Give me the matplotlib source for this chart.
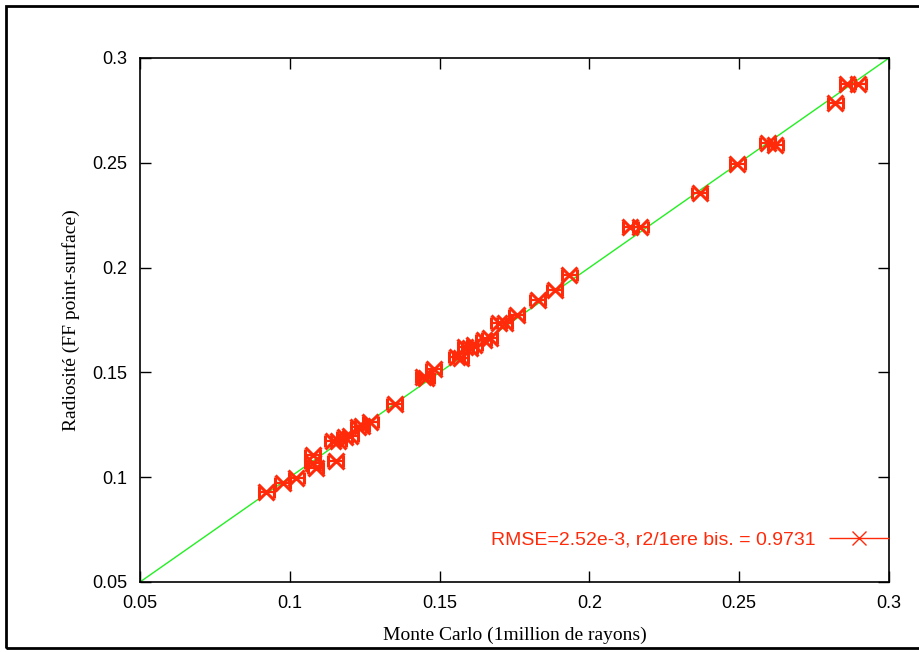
import matplotlib
matplotlib.use('Agg')
import matplotlib.pyplot as plt
from matplotlib.patches import Rectangle
from matplotlib.legend_handler import HandlerErrorbar
import numpy as np

# Monte Carlo (x) vs radiosity FF point-surface (y)
monte_carlo = [0.0921, 0.0977, 0.1021, 0.1077, 0.1077, 0.1087, 0.1154, 0.1144, 0.1161,
               0.1184, 0.1201, 0.1228, 0.1241, 0.1268, 0.1351, 0.1445, 0.1455, 0.1481,
               0.1558, 0.1571, 0.1585, 0.1601, 0.1615, 0.1648, 0.1668, 0.1698, 0.1718,
               0.1758, 0.1828, 0.1885, 0.1932, 0.2136, 0.2169, 0.2369, 0.2493, 0.2596,
               0.2620, 0.2820, 0.2860, 0.2897]
radiosite = [0.0929, 0.0972, 0.0996, 0.1106, 0.1068, 0.1044, 0.1077, 0.1173, 0.1173,
             0.1192, 0.1197, 0.1240, 0.1244, 0.1263, 0.1349, 0.1478, 0.1473, 0.1516,
             0.1573, 0.1569, 0.1621, 0.1616, 0.1631, 0.1655, 0.1664, 0.1736, 0.1736,
             0.1774, 0.1845, 0.1893, 0.1965, 0.2194, 0.2194, 0.2356, 0.2494, 0.2594,
             0.2585, 0.2785, 0.2876, 0.2876]
mc_err = 0.0025
ref_line = [0.05, 0.3]
ticks = [0.05, 0.1, 0.15, 0.2, 0.25, 0.3]
tick_labels = ['0.05', '0.1', '0.15', '0.2', '0.25', '0.3']
legend_label = 'RMSE=2.52e-3, r2/1ere bis. = 0.9731'

red = '#ff2a0a'
green = '#22f022'

fig = plt.figure(figsize=(9.19, 6.52), dpi=100)
ax = fig.add_axes([140 / 919, 1 - 582 / 652, 749 / 919, 524 / 652])

ax.plot(ref_line, ref_line, color=green, lw=1.0, zorder=1)
ax.errorbar(monte_carlo, radiosite, xerr=mc_err, fmt='x', color=red, ms=12, mew=2.2,
            elinewidth=1.6, capsize=4.5, capthick=2.0, zorder=2, label=legend_label)

ax.set_xlim(0.05, 0.3)
ax.set_ylim(0.05, 0.3)
ax.set_xticks(ticks)
ax.set_xticklabels(tick_labels)
ax.set_yticks(ticks)
ax.set_yticklabels(tick_labels)
ax.tick_params(direction='in', length=8, width=1, top=True, right=True,
               labelsize=13, pad=9)
for lab in ax.get_xticklabels() + ax.get_yticklabels():
    lab.set_family(['Liberation Sans', 'DejaVu Sans'])
for s in ax.spines.values():
    s.set_linewidth(1.2)

ax.set_xlabel('Monte Carlo (1million de rayons)', family=['Liberation Serif', 'DejaVu Serif'],
              fontsize=14, labelpad=11)
ax.set_ylabel('Radiosité (FF point-surface)', family=['Liberation Serif', 'DejaVu Serif'],
              fontsize=14, labelpad=9)

# legend sample drawn from a thin copy of the errorbar style
proxy = ax.errorbar([], [], xerr=[], fmt='x', color=red, ms=10, mew=1.0,
                    elinewidth=1.0, capsize=3, capthick=1.0, label=legend_label)
leg = ax.legend([proxy], [legend_label], loc='center right', bbox_to_anchor=(1.0, 0.08),
                frameon=False, markerfirst=False, handlelength=3.1, handletextpad=0.65,
                borderaxespad=0, borderpad=0,
                handler_map={type(proxy): HandlerErrorbar(xerr_size=1.55)},
                prop={'family': ['Liberation Sans', 'DejaVu Sans'], 'size': 14})
for t in leg.get_texts():
    t.set_color(red)

fig.patches.append(Rectangle((6 / 919, 4 / 652), 1.0, 642 / 652, transform=fig.transFigure,
                             fill=False, edgecolor='black', lw=2))

fig.savefig('out.png', dpi=100)
